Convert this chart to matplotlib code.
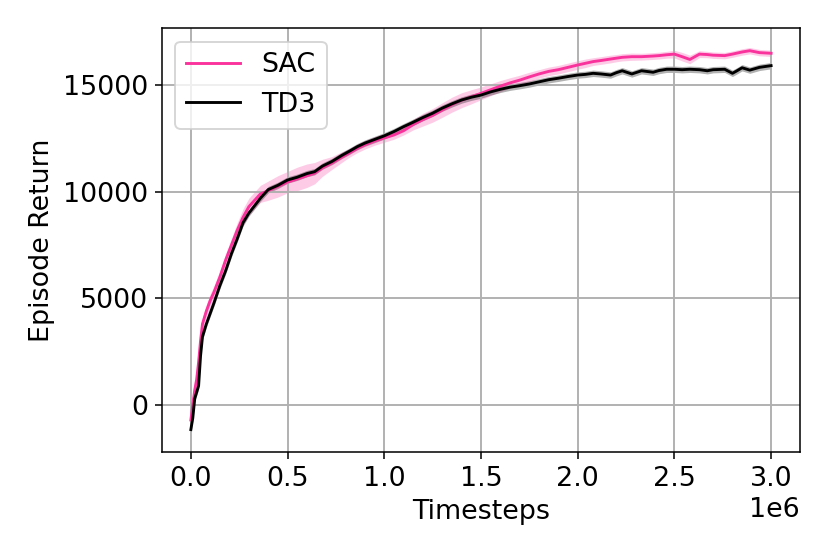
import matplotlib
matplotlib.use("Agg")
import matplotlib.pyplot as plt
import numpy as np

timesteps = [0.00, 0.01, 0.02, 0.03, 0.04, 0.05, 0.06, 0.08, 0.10, 0.12, 0.15, 0.18,
             0.21, 0.24, 0.27, 0.30, 0.33, 0.36, 0.40, 0.45, 0.50, 0.55, 0.60, 0.64,
             0.68, 0.73, 0.78, 0.82, 0.86, 0.90, 0.95, 1.00, 1.05, 1.10, 1.15, 1.20,
             1.25, 1.30, 1.35, 1.40, 1.45, 1.50, 1.55, 1.60, 1.65, 1.70, 1.75, 1.80,
             1.85, 1.90, 1.95, 2.00, 2.04, 2.08, 2.12, 2.17, 2.20, 2.23, 2.28, 2.33,
             2.39, 2.42, 2.46, 2.50, 2.54, 2.58, 2.63, 2.67, 2.70, 2.76, 2.80, 2.82,
             2.85, 2.89, 2.94, 3.00]

sac_mean = [-700, 0, 700, 1200, 2000, 3000, 3800, 4400, 4900, 5300, 6000, 6800,
            7500, 8200, 8800, 9300, 9600, 9900, 10050, 10250, 10450, 10600, 10750, 10870,
            11120, 11350, 11620, 11820, 12030, 12200, 12380, 12520, 12660, 12860, 13150, 13380,
            13580, 13830, 14080, 14290, 14450, 14610, 14780, 14950, 15100, 15230, 15380, 15520,
            15640, 15720, 15830, 15940, 16020, 16100, 16150, 16220, 16260, 16300, 16330, 16330,
            16360, 16380, 16420, 16450, 16330, 16200, 16450, 16430, 16400, 16380, 16450, 16490,
            16550, 16610, 16520, 16490]

sac_std = [250, 300, 300, 300, 300, 300, 300, 300, 300, 300, 300, 300,
           300, 350, 400, 400, 400, 400, 450, 500, 500, 550, 550, 500,
           400, 300, 250, 200, 200, 200, 200, 200, 200, 200, 250, 300,
           320, 340, 350, 350, 330, 300, 280, 260, 240, 230, 220, 200,
           200, 200, 200, 200, 200, 180, 180, 180, 170, 170, 170, 160,
           160, 160, 160, 180, 200, 200, 160, 150, 150, 150, 150, 150,
           150, 150, 150, 150]

td3_mean = [-1150, -600, 300, 600, 900, 2300, 3200, 3800, 4300, 4800, 5600, 6300,
            7100, 7800, 8550, 9000, 9350, 9700, 10100, 10300, 10550, 10680, 10850, 10940,
            11200, 11420, 11700, 11900, 12110, 12280, 12450, 12620, 12820, 13050, 13260, 13480,
            13680, 13920, 14120, 14300, 14430, 14530, 14680, 14800, 14900, 14970, 15050, 15150,
            15250, 15320, 15400, 15470, 15500, 15550, 15520, 15470, 15580, 15670, 15520, 15670,
            15600, 15680, 15740, 15740, 15720, 15740, 15720, 15670, 15720, 15740, 15550, 15650,
            15810, 15700, 15830, 15910]

td3_std = [150] * len(timesteps)

x = np.array(timesteps) * 1e6
sm, ss = np.array(sac_mean), np.array(sac_std)
tm, ts = np.array(td3_mean), np.array(td3_std)

pink = '#f9329c'

plt.rcParams['font.size'] = 14
fig = plt.figure(figsize=(6.0, 4.005), dpi=138.33)
ax = fig.add_axes([0.195, 0.184, 0.769, 0.765])

ax.fill_between(x, sm - ss, sm + ss, color=pink, alpha=0.25, linewidth=0)
ax.plot(x, sm, color=pink, linewidth=1.5, label='SAC')
ax.fill_between(x, tm - ts, tm + ts, color='black', alpha=0.3, linewidth=0)
ax.plot(x, tm, color='black', linewidth=1.5, label='TD3')

ax.set_xlabel('Timesteps')
ax.set_ylabel('Episode Return')
ax.set_yticks([0, 5000, 10000, 15000])
ax.grid(True, linewidth=1.0)
ax.legend(loc='upper left')

fig.savefig('out.png', dpi=138.33)
